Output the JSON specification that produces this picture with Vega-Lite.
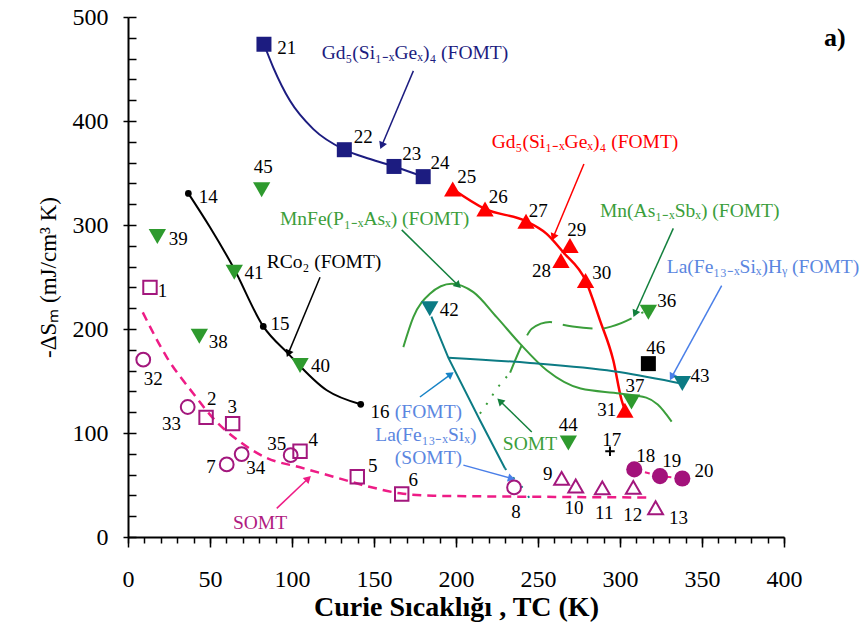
{
  "$schema": "https://vega.github.io/schema/vega-lite/v6.json",
  "width": 656,
  "height": 520,
  "autosize": {"type": "none"},
  "padding": {"left": 128, "top": 17, "right": 79, "bottom": 99},
  "background": "white",
  "config": {
    "view": {"stroke": null},
    "axis": {
      "domainColor": "#000000", "domainWidth": 2, "tickColor": "#000000", "tickWidth": 1.5,
      "labelFont": "Liberation Serif", "labelFontSize": 24, "labelColor": "#000000",
      "titleFont": "Liberation Serif", "titleColor": "#000000", "grid": false,
      "labelFlush": false, "labelOverlap": false, "labelBound": false
    }
  },
  "datasets": {
    "pts": [
      {"k":"sqm","x":13.4,"y":240},{"k":"sqm","x":47.6,"y":115},{"k":"sqm","x":63.8,"y":109},{"k":"sqm","x":104.9,"y":82.5},{"k":"sqm","x":139.8,"y":57.9},{"k":"sqm","x":166.9,"y":41.3},
      {"k":"cim","x":9.3,"y":170.5},{"k":"cim","x":36.4,"y":125},{"k":"cim","x":60.2,"y":69.8},{"k":"cim","x":69.3,"y":79.7},{"k":"cim","x":99.2,"y":78.7},{"k":"cim","x":235.4,"y":47.7},
      {"k":"trm","x":264.4,"y":56.3},{"k":"trm","x":273,"y":49},{"k":"trm","x":289.2,"y":47.3},{"k":"trm","x":308.1,"y":47.7},{"k":"trm","x":321.7,"y":28.1},
      {"k":"cfm","x":308.7,"y":65},{"k":"cfm","x":324.4,"y":58.5},{"k":"cfm","x":338,"y":56.3},
      {"k":"sqn","x":82.9,"y":473.8},{"k":"sqn","x":131.9,"y":372.4},{"k":"sqn","x":162.2,"y":356.3},{"k":"sqn","x":180,"y":346.5},
      {"k":"trr","x":198,"y":334.6},{"k":"trr","x":217.7,"y":315.4},{"k":"trr","x":242.7,"y":303.6},{"k":"trr","x":264,"y":265.8},{"k":"trr","x":269.5,"y":280.2},{"k":"trr","x":279,"y":246.6},{"k":"trr","x":303,"y":121.9},
      {"k":"trg","x":43.5,"y":193},{"k":"trg","x":17.9,"y":289},{"k":"trg","x":104.9,"y":165},{"k":"trg","x":64.8,"y":254.6},{"k":"trg","x":81.5,"y":334},{"k":"trg","x":317.3,"y":216},{"k":"trg","x":307,"y":129.9},{"k":"trg","x":268.5,"y":90.5},
      {"k":"trt","x":184,"y":219.5},{"k":"trt","x":338,"y":147.5},
      {"k":"sqk","x":317.3,"y":166.7},
      {"k":"plus","x":293.9,"y":82.5},
      {"k":"dot","x":36.8,"y":330.4},{"k":"dot","x":82.5,"y":202.5},{"k":"dot","x":141.9,"y":127.6}
    ],
    "curves": [
      {"c":"navy","x":82.9,"y":473.8},{"c":"navy","x":88.6,"y":451.4},{"c":"navy","x":98.8,"y":419.4},{"c":"navy","x":113,"y":392.2},{"c":"navy","x":131.9,"y":372.4},{"c":"navy","x":147.6,"y":363.4},{"c":"navy","x":162.2,"y":356.3},{"c":"navy","x":180,"y":346.5},
      {"c":"red","x":198,"y":334.6},{"c":"red","x":217.7,"y":315.4},{"c":"red","x":242.7,"y":303.6},{"c":"red","x":255.3,"y":291.5},{"c":"red","x":265.4,"y":273.8},{"c":"red","x":279,"y":246.6},{"c":"red","x":287.8,"y":208.3},{"c":"red","x":295.9,"y":169.9},{"c":"red","x":301,"y":131.5},{"c":"red","x":303,"y":121.9},
      {"c":"rco","x":36.8,"y":330.4},{"c":"rco","x":50,"y":297.8},{"c":"rco","x":64.2,"y":259.4},{"c":"rco","x":82.5,"y":202.5},{"c":"rco","x":97.7,"y":176.3},{"c":"rco","x":121.2,"y":141.1},{"c":"rco","x":141.9,"y":127.6},
      {"c":"mnfe","x":167.9,"y":182.6},{"c":"mnfe","x":174,"y":211.4},{"c":"mnfe","x":184.1,"y":233.9},{"c":"mnfe","x":197.4,"y":243.5},{"c":"mnfe","x":210.6,"y":235.4},{"c":"mnfe","x":224.8,"y":211.4},{"c":"mnfe","x":239,"y":185.9},{"c":"mnfe","x":255.3,"y":160.3},{"c":"mnfe","x":276,"y":142.7},{"c":"mnfe","x":300,"y":138},{"c":"mnfe","x":316,"y":134},{"c":"mnfe","x":323,"y":127.5},{"c":"mnfe","x":331.5,"y":111},
      {"c":"mnas1","x":214.6,"y":118.6},{"c":"mnas1","x":219.7,"y":130},{"c":"mnas1","x":224.8,"y":142.7},{"c":"mnas1","x":233,"y":158},
      {"c":"mnas2","x":233,"y":158},{"c":"mnas2","x":242.1,"y":190.3},{"c":"mnas2","x":246.2,"y":200.3},{"c":"mnas2","x":257.3,"y":206.7},{"c":"mnas2","x":264.4,"y":204.3},{"c":"mnas2","x":271.1,"y":202.5},{"c":"mnas2","x":287.8,"y":200.3},{"c":"mnas2","x":295,"y":202.5},{"c":"mnas2","x":314.2,"y":216.2},
      {"c":"tealA","x":185,"y":212},{"c":"tealA","x":195.3,"y":172.4},{"c":"tealA","x":214.6,"y":112.3},{"c":"tealA","x":229.9,"y":65.9},
      {"c":"tealD","x":229.9,"y":65.9},{"c":"tealD","x":241,"y":46.7},{"c":"tealD","x":246.2,"y":33.9},
      {"c":"tealB","x":195.3,"y":172.4},{"c":"tealB","x":245.1,"y":167.3},{"c":"tealB","x":296,"y":159.3},{"c":"tealB","x":332.5,"y":149.1},{"c":"tealB","x":337.6,"y":147.5},
      {"c":"somt","x":9,"y":216},{"c":"somt","x":23.6,"y":173},{"c":"somt","x":39.8,"y":138},{"c":"somt","x":52,"y":114},{"c":"somt","x":68.3,"y":91.5},{"c":"somt","x":84.6,"y":76},{"c":"somt","x":104.9,"y":67},{"c":"somt","x":125.2,"y":58},{"c":"somt","x":145.5,"y":49},{"c":"somt","x":165.9,"y":42},{"c":"somt","x":186.2,"y":39.7},{"c":"somt","x":247,"y":38.7},{"c":"somt","x":319,"y":38},
      {"c":"somt2","x":308.7,"y":65},{"c":"somt2","x":324.4,"y":58.5},{"c":"somt2","x":338,"y":56.3}
    ],
    "arrows": [
      {"g":"navy","x":174,"y":448.2,"x2":154.7,"y2":376.2},
      {"g":"red","x":278,"y":358.6,"x2":259.3,"y2":288.2},
      {"g":"dgreen","x":166.9,"y":295.3,"x2":201.4,"y2":241.8},
      {"g":"dgreen","x":332.5,"y":296.8,"x2":309.1,"y2":214.7},
      {"g":"lba","x":362,"y":241.8,"x2":331.5,"y2":153.8},
      {"g":"black","x":117.1,"y":249.8,"x2":97.7,"y2":176.3},
      {"g":"blue","x":178,"y":134.6,"x2":196.8,"y2":156.4},
      {"g":"lba","x":204.5,"y":69.1,"x2":233.9,"y2":56.3},
      {"g":"dgreen","x":246.2,"y":101,"x2":226.8,"y2":130.8},
      {"g":"pink","x":90.7,"y":27.5,"x2":109.9,"y2":56.3}
    ],
    "nums": [
      {"t":"1","x":21.1,"y":236.4},{"t":"32","x":15.4,"y":152.3},{"t":"33","x":26.6,"y":108.4},{"t":"2","x":51,"y":133.1},{"t":"3","x":63.6,"y":125.1},
      {"t":"7","x":50.6,"y":66.9},{"t":"34","x":77.9,"y":65.9},{"t":"35","x":90.7,"y":89.3},{"t":"4","x":113,"y":93.1},{"t":"5","x":149.2,"y":68.1},
      {"t":"6","x":174,"y":54.7},{"t":"8","x":236.6,"y":24.3},{"t":"38","x":55,"y":187.4},{"t":"40","x":117.4,"y":164.4},{"t":"41","x":76.8,"y":253.7},
      {"t":"15","x":92.7,"y":205.1},{"t":"16","x":153.7,"y":120.3},{"t":"21","x":96.8,"y":470.5},{"t":"22","x":143.5,"y":384.2},{"t":"23","x":173,"y":368.2},
      {"t":"24","x":190.2,"y":359.6},{"t":"45","x":82.5,"y":355.4},{"t":"14","x":49,"y":327.3},{"t":"39","x":30.7,"y":286.3},{"t":"25","x":206.5,"y":346.5},
      {"t":"26","x":225.8,"y":327.3},{"t":"27","x":250.2,"y":313.8},{"t":"29","x":273.6,"y":295.3},{"t":"28","x":252.2,"y":255.6},{"t":"30","x":288.8,"y":253.7},
      {"t":"31","x":291.9,"y":121.9},{"t":"36","x":328.5,"y":226.5},{"t":"37","x":309.1,"y":144.9},{"t":"46","x":321.8,"y":182},{"t":"43","x":348.8,"y":154.5},
      {"t":"42","x":195.9,"y":217.8},{"t":"44","x":268.5,"y":107.5},{"t":"17","x":294.9,"y":93.1},{"t":"9","x":255.9,"y":60.5},{"t":"10","x":271.9,"y":27.5},
      {"t":"11","x":290.4,"y":22.7},{"t":"12","x":307.7,"y":21.1},{"t":"13","x":335.6,"y":17.9},{"t":"18","x":315.7,"y":77.7},{"t":"19","x":331.5,"y":72.9},
      {"t":"20","x":351.2,"y":63.6}
    ],
    "serL": [
      {"g":"navy","t":"Gd₅(Si₁₋ₓGeₓ)₄ (FOMT)","x":118.1,"y":465.7},
      {"g":"red","t":"Gd₅(Si₁₋ₓGeₓ)₄ (FOMT)","x":221.8,"y":379.4},
      {"g":"green","t":"MnFe(P₁₋ₓAsₓ) (FOMT)","x":92.7,"y":305.9},
      {"g":"green","t":"Mn(As₁₋ₓSbₓ) (FOMT)","x":287.8,"y":313.8},
      {"g":"lb","t":"La(Fe₁₃₋ₓSiₓ)Hᵧ (FOMT)","x":328.5,"y":259.4},
      {"g":"black","t":"RCo₂ (FOMT)","x":84.6,"y":264.2}
    ],
    "serC": [
      {"g":"lb","t":"(FOMT)","x":183.2,"y":120.3},
      {"g":"lb","t":"La(Fe₁₃₋ₓSiₓ)","x":181.6,"y":97.9},
      {"g":"lb","t":"(SOMT)","x":183.2,"y":75.5},
      {"g":"green","t":"SOMT","x":245.1,"y":89.9},
      {"g":"mag","t":"SOMT","x":80.5,"y":13.1}
    ],
    "panel": [{"t":"a)","x":431,"y":480}]
  },
  "encoding": {
    "x": {"field": "x", "type": "quantitative", "scale": {"domain": [0, 400], "nice": false, "zero": false}, "axis": null},
    "y": {"field": "y", "type": "quantitative", "scale": {"domain": [0, 500], "nice": false, "zero": false}, "axis": null}
  },
  "resolve": {"axis": {"x": "independent", "y": "independent"}},
  "layer": [
    {
      "data": {"name": "curves"},
      "transform": [{"filter": "datum.c == 'somt'"}],
      "mark": {"type": "line", "color": "#ee1c86", "strokeWidth": 2.5, "strokeDash": [9, 6], "interpolate": "monotone"},
      "encoding": {
        "x": {"field": "x", "type": "quantitative", "scale": {"domain": [0, 400], "nice": false, "zero": false},
          "axis": {"orient": "bottom", "values": [0,10,20,30,40,50,60,70,80,90,100,110,120,130,140,150,160,170,180,190,200,210,220,230,240,250,260,270,280,290,300,310,320,330,340,350,360,370,380,390,400], "tickSize": 6, "labels": false, "domain": false, "title": null}},
        "y": {"field": "y", "type": "quantitative", "scale": {"domain": [0, 500], "nice": false, "zero": false},
          "axis": {"orient": "left", "values": [0,20,40,60,80,100,120,140,160,180,200,220,240,260,280,300,320,340,360,380,400,420,440,460,480,500], "tickSize": -8, "labels": false, "domain": false, "title": null}}
      }
    },
    {"data": {"name": "curves"}, "transform": [{"filter": "datum.c == 'somt2'"}],
     "mark": {"type": "line", "color": "#ee1c86", "strokeWidth": 2, "strokeDash": [5, 6]}, "encoding": {}},
    {"data": {"name": "curves"}, "transform": [{"filter": "datum.c == 'navy'"}],
     "mark": {"type": "line", "color": "#1c1c80", "strokeWidth": 2, "interpolate": "monotone"}, "encoding": {}},
    {"data": {"name": "curves"}, "transform": [{"filter": "datum.c == 'red'"}],
     "mark": {"type": "line", "color": "#ff0000", "strokeWidth": 2.5, "interpolate": "monotone"}, "encoding": {}},
    {"data": {"name": "curves"}, "transform": [{"filter": "datum.c == 'rco'"}],
     "mark": {"type": "line", "color": "#000000", "strokeWidth": 2, "interpolate": "monotone"}, "encoding": {}},
    {"data": {"name": "curves"}, "transform": [{"filter": "datum.c == 'mnfe'"}],
     "mark": {"type": "line", "color": "#3b9e3b", "strokeWidth": 2, "interpolate": "monotone"}, "encoding": {}},
    {"data": {"name": "curves"}, "transform": [{"filter": "datum.c == 'mnas1'"}],
     "mark": {"type": "line", "color": "#3b9e3b", "strokeWidth": 2, "strokeDash": [2, 9]}, "encoding": {}},
    {"data": {"name": "curves"}, "transform": [{"filter": "datum.c == 'mnas2'"}],
     "mark": {"type": "line", "color": "#3b9e3b", "strokeWidth": 2, "strokeDash": [30, 11], "interpolate": "monotone"}, "encoding": {}},
    {"data": {"name": "curves"}, "transform": [{"filter": "datum.c == 'tealA'"}],
     "mark": {"type": "line", "color": "#0c7b84", "strokeWidth": 2}, "encoding": {}},
    {"data": {"name": "curves"}, "transform": [{"filter": "datum.c == 'tealD'"}],
     "mark": {"type": "line", "color": "#0c7b84", "strokeWidth": 2, "strokeDash": [2, 10]}, "encoding": {}},
    {"data": {"name": "curves"}, "transform": [{"filter": "datum.c == 'tealB'"}],
     "mark": {"type": "line", "color": "#0c7b84", "strokeWidth": 2, "interpolate": "monotone"}, "encoding": {}},
    {
      "data": {"name": "arrows"},
      "mark": {"type": "rule", "strokeWidth": 1.5},
      "encoding": {
        "x2": {"field": "x2"},
        "y2": {"field": "y2"},
        "color": {"field": "g", "type": "nominal", "legend": null,
          "scale": {"domain": ["navy","red","green","dgreen","lb","lba","blue","black","mag","pink"], "range": ["#1c1c80","#ff0000","#3b9e3b","#13803d","#5a86e0","#4a7fe8","#1683c6","#000000","#b01a80","#ee1c86"]}}
      }
    },
    {
      "data": {"name": "arrows"},
      "transform": [{"calculate": "atan2((datum.x2 - datum.x) * 1.64, (datum.y2 - datum.y) * 1.04) * 180 / PI", "as": "ang"}],
      "mark": {"type": "point", "shape": "triangle-up", "filled": true, "size": 70, "opacity": 1},
      "encoding": {
        "x": {"field": "x2", "type": "quantitative", "scale": {"domain": [0, 400], "nice": false, "zero": false}, "axis": null},
        "y": {"field": "y2", "type": "quantitative", "scale": {"domain": [0, 500], "nice": false, "zero": false}, "axis": null},
        "angle": {"field": "ang", "type": "quantitative", "scale": null},
        "color": {"field": "g", "type": "nominal", "legend": null,
          "scale": {"domain": ["navy","red","green","dgreen","lb","lba","blue","black","mag","pink"], "range": ["#1c1c80","#ff0000","#3b9e3b","#13803d","#5a86e0","#4a7fe8","#1683c6","#000000","#b01a80","#ee1c86"]}}
      }
    },
    {"data": {"name": "pts"}, "transform": [{"filter": "datum.k == 'sqm'"}],
     "mark": {"type": "point", "shape": "square", "filled": false, "color": "#a3177d", "strokeWidth": 2, "size": 180, "opacity": 1}, "encoding": {}},
    {"data": {"name": "pts"}, "transform": [{"filter": "datum.k == 'cim'"}],
     "mark": {"type": "point", "shape": "circle", "filled": false, "color": "#a3177d", "strokeWidth": 2, "size": 190, "opacity": 1}, "encoding": {}},
    {"data": {"name": "pts"}, "transform": [{"filter": "datum.k == 'trm'"}],
     "mark": {"type": "point", "shape": "triangle-up", "filled": false, "color": "#a3177d", "strokeWidth": 2, "size": 220, "opacity": 1}, "encoding": {}},
    {"data": {"name": "pts"}, "transform": [{"filter": "datum.k == 'cfm'"}],
     "mark": {"type": "point", "shape": "circle", "filled": true, "color": "#a3127b", "size": 260, "opacity": 1}, "encoding": {}},
    {"data": {"name": "pts"}, "transform": [{"filter": "datum.k == 'sqn'"}],
     "mark": {"type": "point", "shape": "square", "filled": true, "color": "#1c1c80", "size": 225, "opacity": 1}, "encoding": {}},
    {"data": {"name": "pts"}, "transform": [{"filter": "datum.k == 'trr'"}],
     "mark": {"type": "point", "shape": "triangle-up", "filled": true, "color": "#ff0000", "size": 300, "opacity": 1}, "encoding": {}},
    {"data": {"name": "pts"}, "transform": [{"filter": "datum.k == 'trg'"}],
     "mark": {"type": "point", "shape": "triangle-down", "filled": true, "color": "#2e9a2e", "size": 300, "opacity": 1}, "encoding": {}},
    {"data": {"name": "pts"}, "transform": [{"filter": "datum.k == 'trt'"}],
     "mark": {"type": "point", "shape": "triangle-down", "filled": true, "color": "#0c7b84", "size": 300, "opacity": 1}, "encoding": {}},
    {"data": {"name": "pts"}, "transform": [{"filter": "datum.k == 'sqk'"}],
     "mark": {"type": "point", "shape": "square", "filled": true, "color": "#000000", "size": 225, "opacity": 1}, "encoding": {}},
    {"data": {"name": "pts"}, "transform": [{"filter": "datum.k == 'plus'"}],
     "mark": {"type": "point", "shape": "M -1 0 L 1 0 M 0 -1 L 0 1", "filled": false, "color": "#000000", "strokeWidth": 2, "size": 90, "opacity": 1}, "encoding": {}},
    {"data": {"name": "pts"}, "transform": [{"filter": "datum.k == 'dot'"}],
     "mark": {"type": "point", "shape": "circle", "filled": true, "color": "#000000", "size": 45, "opacity": 1}, "encoding": {}},
    {
      "data": {"name": "nums"},
      "mark": {"type": "text", "font": "Liberation Serif", "fontSize": 19, "color": "#000000", "align": "center", "baseline": "middle"},
      "encoding": {
        "x": {"field": "x", "type": "quantitative", "scale": {"domain": [0, 400], "nice": false, "zero": false},
          "axis": {"orient": "bottom", "values": [0,50,100,150,200,250,300,350,400], "tickSize": 10, "labelPadding": 20,
            "title": "Curie Sıcaklığı , TC (K)", "titleFontWeight": "bold", "titleFontSize": 28, "titlePadding": 2}},
        "y": {"field": "y", "type": "quantitative", "scale": {"domain": [0, 500], "nice": false, "zero": false},
          "axis": {"orient": "left", "values": [0,100,200,300,400,500], "tickSize": 5, "labelPadding": 15,
            "title": "-ΔSₘ (mJ/cm³ K)", "titleFontWeight": "normal", "titleFontSize": 23, "titlePadding": 12}},
        "text": {"field": "t"}
      }
    },
    {
      "data": {"name": "serL"},
      "mark": {"type": "text", "font": "Liberation Serif", "fontSize": 19.5, "align": "left", "baseline": "middle"},
      "encoding": {
        "text": {"field": "t"},
        "color": {"field": "g", "type": "nominal", "legend": null,
          "scale": {"domain": ["navy","red","green","dgreen","lb","lba","blue","black","mag","pink"], "range": ["#1c1c80","#ff0000","#3b9e3b","#13803d","#5a86e0","#4a7fe8","#1683c6","#000000","#b01a80","#ee1c86"]}}
      }
    },
    {
      "data": {"name": "serC"},
      "mark": {"type": "text", "font": "Liberation Serif", "fontSize": 19.5, "align": "center", "baseline": "middle"},
      "encoding": {
        "text": {"field": "t"},
        "color": {"field": "g", "type": "nominal", "legend": null,
          "scale": {"domain": ["navy","red","green","dgreen","lb","lba","blue","black","mag","pink"], "range": ["#1c1c80","#ff0000","#3b9e3b","#13803d","#5a86e0","#4a7fe8","#1683c6","#000000","#b01a80","#ee1c86"]}}
      }
    },
    {
      "data": {"name": "panel"},
      "mark": {"type": "text", "font": "Liberation Serif", "fontSize": 26, "fontWeight": "bold", "color": "#000000", "align": "center", "baseline": "middle"},
      "encoding": {"text": {"field": "t"}}
    }
  ]
}
